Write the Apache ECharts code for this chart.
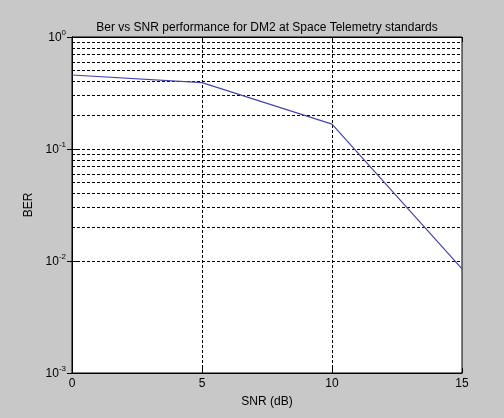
<!DOCTYPE html>
<html>
<head>
<meta charset="utf-8">
<script src="https://cdn.jsdelivr.net/npm/echarts@6/dist/echarts.min.js"></script>
<style>
html,body{margin:0;padding:0;background:#c8c8c8;}
#c{width:504px;height:418px;}
</style>
</head>
<body>
<div id="c"></div>
<script>
const snr = [0, 5, 10, 15];
const ber = [0.458, 0.391, 0.167, 0.0085];
const xTicks = [0, 5, 10, 15];
const yMin = 0.001, yMax = 1;
const minorGrid = [];
for (const d of [0.001, 0.01, 0.1]) {
  for (let k = 2; k <= 9; k++) minorGrid.push(+(k * d).toPrecision(3));
}
const majorGridY = [0.01, 0.1];
const gridX = [5, 10];

const chart = echarts.init(document.getElementById('c'));
const font = 'Liberation Sans, Arial, sans-serif';
const dash = [3, 2];
const labelFmt = v => {
  const e = Math.round(Math.log10(v));
  return '{b|10}{s|' + e + '}';
};
const richLbl = {
  b: { fontSize: 12, fontFamily: font, color: '#000', verticalAlign: 'bottom', lineHeight: 14, padding: [0, 0, 0, 0] },
  s: { fontSize: 8, fontFamily: font, color: '#000', verticalAlign: 'bottom', lineHeight: 10, padding: [0, 0, 7, 0] }
};

chart.setOption({
  animation: false,
  backgroundColor: '#c8c8c8',
  title: {
    text: 'Ber vs SNR performance for DM2 at Space Telemetry standards',
    left: 262, top: 17, textAlign: 'center',
    textStyle: { fontSize: 12, fontWeight: 'normal', fontFamily: font, color: '#000' }
  },
  grid: {
    left: 72, right: 42, top: 37, bottom: 45,
    show: true, backgroundColor: '#ffffff', borderColor: '#000', borderWidth: 1
  },
  xAxis: [{
    type: 'value', min: xTicks[0], max: xTicks[xTicks.length - 1], interval: 5,
    name: 'SNR (dB)', nameLocation: 'middle', nameGap: 23,
    nameTextStyle: { fontSize: 12, fontFamily: font, color: '#000' },
    axisLine: { show: true, lineStyle: { color: '#000' } },
    axisTick: { show: true, inside: true, length: 5, lineStyle: { color: '#000' } },
    axisLabel: { fontSize: 12, fontFamily: font, color: '#000', margin: 5 },
    splitLine: { show: false }
  }, {
    type: 'value', position: 'top', min: 0, max: 15, interval: 5,
    axisLine: { show: true, lineStyle: { color: '#000' } },
    axisTick: { show: true, inside: true, length: 5, lineStyle: { color: '#000' } },
    axisLabel: { show: false }, splitLine: { show: false }
  }],
  yAxis: [{
    type: 'log', logBase: 10, min: yMin, max: yMax,
    name: 'BER', nameLocation: 'middle', nameGap: 31, nameRotate: 90,
    nameTextStyle: { fontSize: 12, fontFamily: font, color: '#000' },
    axisLine: { show: true, lineStyle: { color: '#000' } },
    axisTick: { show: true, inside: true, length: 5, lineStyle: { color: '#000' } },
    axisLabel: { formatter: labelFmt, rich: richLbl, margin: 6 },
    splitLine: { show: false }
  }, {
    type: 'log', logBase: 10, min: yMin, max: yMax, position: 'right',
    axisLine: { show: true, lineStyle: { color: '#000' } },
    axisTick: { show: true, inside: true, length: 5, lineStyle: { color: '#000' } },
    axisLabel: { show: false }, splitLine: { show: false }
  }],
  series: [{
    type: 'line',
    data: snr.map((x, i) => [x, ber[i]]),
    showSymbol: false,
    lineStyle: { color: '#4444b0', width: 1.2 },
    z: 5,
    markLine: {
      silent: true, symbol: 'none', animation: false,
      label: { show: false },
      lineStyle: { color: '#000', type: dash, width: 1 },
      data: [
        ...minorGrid.map(v => ({ yAxis: v })),
        ...majorGridY.map(v => ({ yAxis: v })),
        ...gridX.map(v => ({ xAxis: v }))
      ]
    }
  }]
});
</script>
</body>
</html>
